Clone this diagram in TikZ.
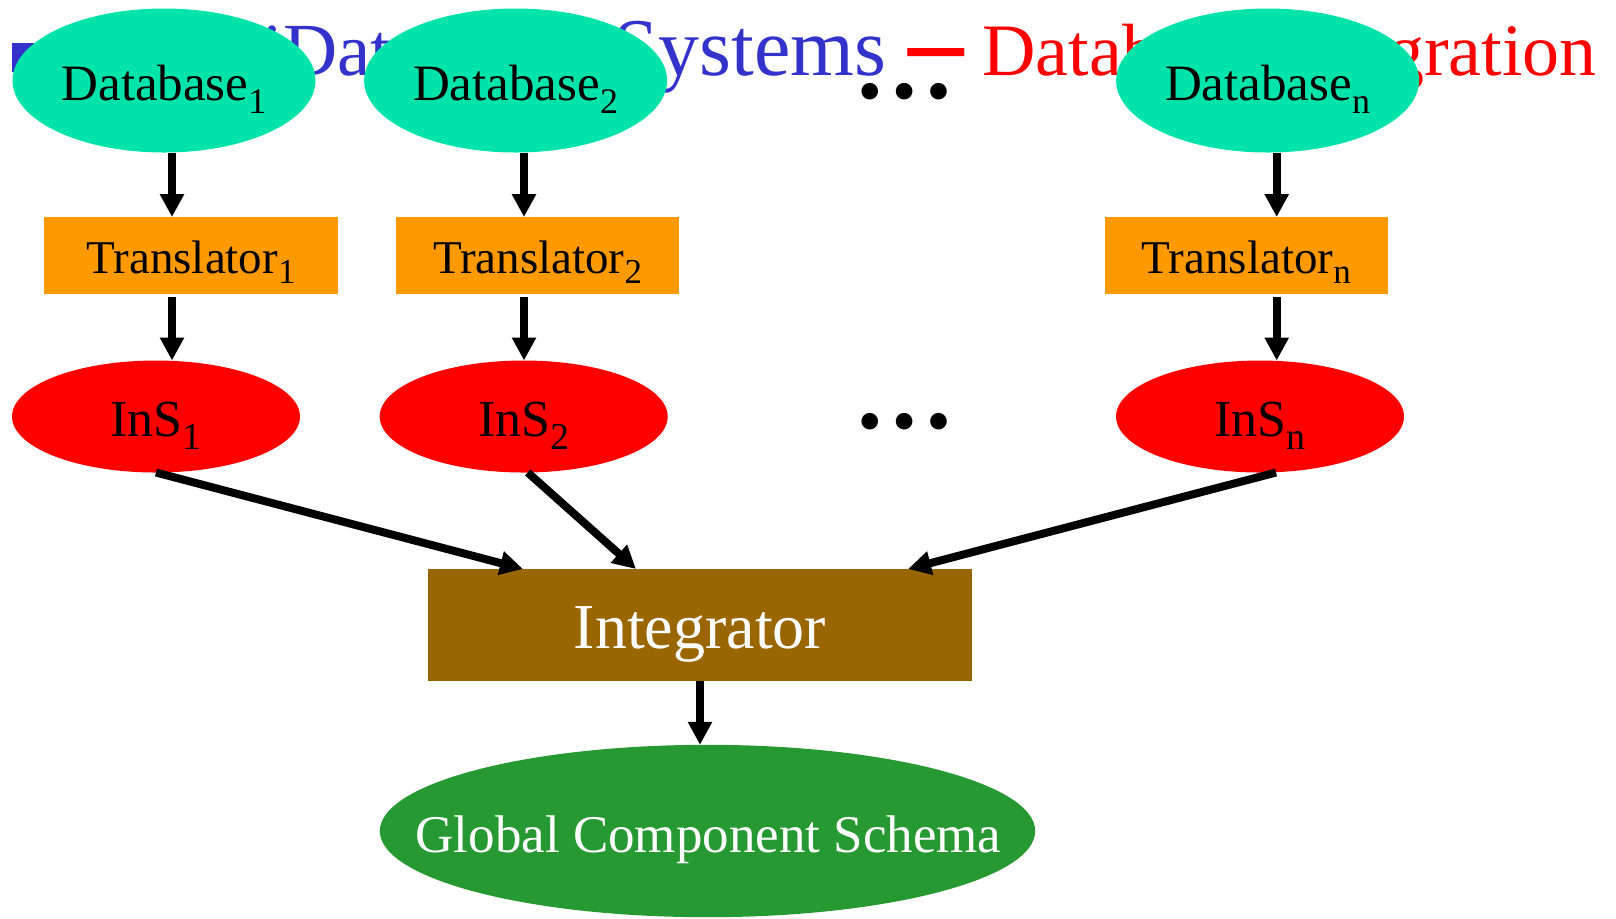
\documentclass[tikz,border=0pt]{standalone}
\usepackage{fontspec}
\setmainfont{Liberation Serif}
\usetikzlibrary{shapes.geometric,arrows.meta,calc}

\definecolor{dbteal}{RGB}{0,227,170}
\definecolor{trorange}{RGB}{255,153,0}
\definecolor{insred}{RGB}{255,0,0}
\definecolor{intbrown}{RGB}{153,102,0}
\definecolor{globgreen}{RGB}{38,153,51}
\definecolor{ttlblue}{RGB}{51,51,204}

% font size shorthand and lowered index
\newcommand\fs[1]{\fontsize{#1}{#1}\selectfont}
\newcommand\idx[3]{\raisebox{-#1}{\fs{#2}#3}}

\begin{document}
\begin{tikzpicture}[x=0.5pt,y=-0.5pt,
  dbell/.style={ellipse, fill=dbteal, minimum width=151.5pt, minimum height=72pt, inner sep=0pt, outer sep=0pt},
  trbox/.style={rectangle, fill=trorange, minimum height=38.35pt, inner sep=0pt, outer sep=0pt},
  insell/.style={ellipse, fill=insred, minimum width=144pt, minimum height=56pt, inner sep=0pt, outer sep=0pt},
  intbox/.style={rectangle, fill=intbrown, minimum width=272pt, minimum height=55.85pt, inner sep=0pt, outer sep=0pt},
  globell/.style={ellipse, fill=globgreen, minimum width=327.7pt, minimum height=86.2pt, inner sep=0pt, outer sep=0pt},
  lbl/.style={anchor=base, inner sep=0pt, outer sep=0pt},
  dblbl/.style={lbl, font=\fs{25.5pt}},
  trlbl/.style={lbl, font=\fs{23.5pt}},
  inslbl/.style={lbl, font=\fs{26pt}},
  dotrow/.style={anchor=base, inner sep=0pt, font=\fs{51pt}\bfseries},
  flow/.style={line width=4pt, -{Triangle[length=11.5pt,width=11.5pt]}}
]
\useasboundingbox (0,0) rectangle (1616,918);

% slide title (lies behind the database ellipses)
\fill[ttlblue] (12,43) rectangle (41,72);
\node[anchor=base west, inner sep=0pt, text=ttlblue, font=\fs{37.5pt}] (ttlA) at (116,75.5) {MultiDatabase};
\node[anchor=base east, inner sep=0pt, text=ttlblue, font=\fs{41pt}] (ttlB) at (887,75.5) {Systems};
\node[anchor=base west, inner sep=0pt, text=insred, font=\fs{37pt}] (ttlC) at (908,75.5)
  {\raisebox{-7.6pt}{\scalebox{1.5}[2.2]{–}} Database Integration};

% component databases
\node[dbell] (db1) at (164,80.5) {};
\node[dbell] (db2) at (515.6,80.5) {};
\node[dbell] (dbn) at (1267.6,80.5) {};
\node[dblbl] (db1t) at (164,100) {Database\idx{6.5pt}{18pt}{1}};
\node[dblbl] (db2t) at (515.6,100) {Database\idx{6.5pt}{18pt}{2}};
\node[dblbl] (dbnt) at (1267.6,100) {Database\idx{6.5pt}{18pt}{n}};
\node[dotrow] (dotsA) at (904.5,98) {…};

% translators
\node[trbox, minimum width=146.9pt] (tr1) at (191.1,255.35) {};
\node[trbox, minimum width=141.5pt] (tr2) at (537.5,255.35) {};
\node[trbox, minimum width=141.35pt] (trn) at (1246.35,255.35) {};
\node[trlbl] (tr1t) at (191.1,273.3) {Translator\idx{5pt}{17.5pt}{1}};
\node[trlbl] (tr2t) at (537.5,273.3) {Translator\idx{5pt}{17.5pt}{2}};
\node[trlbl] (trnt) at (1246.35,273.3) {Translator\idx{5pt}{17.5pt}{n}};

% intermediate schemas
\node[insell] (ins1) at (156,416.5) {};
\node[insell] (ins2) at (523.7,416.5) {};
\node[insell] (insn) at (1260,416.5) {};
\node[inslbl] (ins1t) at (156,436.7) {InS\idx{6.3pt}{19pt}{1}};
\node[inslbl] (ins2t) at (523.7,436.7) {InS\idx{6.3pt}{19pt}{2}};
\node[inslbl] (insnt) at (1260,436.7) {InS\idx{6.3pt}{19pt}{n}};
\node[dotrow] (dotsB) at (904.5,428) {…};

% integrator and result
\node[intbox] (integ) at (700,624.85) {};
\node[lbl, text=white, font=\fs{32pt}] (integt) at (700,648.3) {Integrator};
\node[globell] (glob) at (707.5,831) {};
\node[lbl, text=white, font=\fs{26.5pt}] (globt) at (708.5,852.7) {Global Component Schema};

% columns of the vertical connectors
\coordinate (c1) at (172,0);
\coordinate (c2) at (524,0);
\coordinate (cn) at (1276.7,0);

\draw[flow] (db1.south -| c1) -- (tr1.north -| c1);
\draw[flow] (db2.south -| c2) -- (tr2.north -| c2);
\draw[flow] (dbn.south -| cn) -- (trn.north -| cn);
\draw[flow] ($(tr1.south -| c1)+(0,3)$) -- (ins1.north -| c1);
\draw[flow] ($(tr2.south -| c2)+(0,3)$) -- (ins2.north -| c2);
\draw[flow] ($(trn.south -| cn)+(0,3)$) -- (insn.north -| cn);

\draw[flow] (ins1.south) -- ($(integ.north)+(-177,0)$);
\draw[flow] ($(ins2.south)+(4,0)$) -- ($(integ.north)+(-64,0)$);
\draw[flow] ($(insn.south)+(16,0)$) -- ($(integ.north)+(208,0)$);
\draw[flow] (integ.south) -- (integ.south |- glob.north);
\end{tikzpicture}
\end{document}
